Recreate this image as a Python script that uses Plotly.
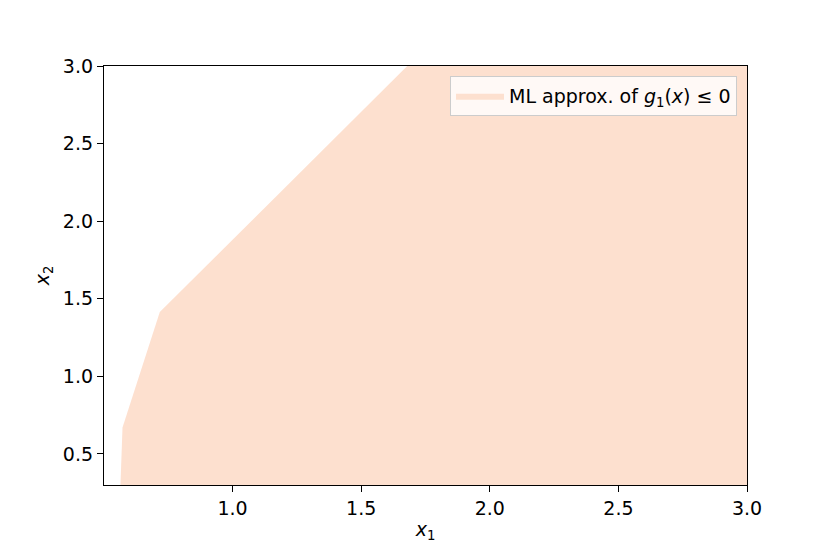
import plotly.graph_objects as go

# Region boundary (data coords)
region_x = [0.564, 0.572, 0.717, 1.679, 3.0, 3.0, 0.564]
region_y = [0.3, 0.670, 1.414, 3.0, 3.0, 0.3, 0.3]

x_ticks = [1.0, 1.5, 2.0, 2.5, 3.0]
y_ticks = [0.5, 1.0, 1.5, 2.0, 2.5, 3.0]
x_range = [0.5, 3.0]
y_range = [0.3, 3.0]

fill_color = "#fde0cf"
font_family = "DejaVu Sans"
fs = 19

fig = go.Figure()
fig.add_trace(go.Scatter(
    x=region_x, y=region_y, mode="lines", fill="toself",
    fillcolor=fill_color, line=dict(width=0, color=fill_color),
    name="ML approx. of <i>g</i><sub>1</sub>(<i>x</i>) ≤ 0",
    showlegend=True, hoverinfo="skip",
))

W, H = 830, 554
L, R, T, B = 104, 83, 66, 69
pw = W - L - R
ph = H - T - B

axis_common = dict(
    showline=True, mirror=True, linecolor="black", linewidth=1.3,
    ticks="outside", ticklen=6, tickwidth=1.3, tickcolor="black",
    showgrid=False, zeroline=False, tickformat=".1f",
    tickfont=dict(family=font_family, size=fs, color="black"),
)

fig.update_layout(
    width=W, height=H,
    margin=dict(l=L, r=R, t=T, b=B, pad=0),
    plot_bgcolor="white", paper_bgcolor="white",
    font=dict(family=font_family, size=fs, color="black"),
    xaxis=dict(range=x_range, tickvals=x_ticks, **axis_common,
               title=dict(text="<i>x</i><sub>1</sub>", standoff=4,
                          font=dict(family=font_family, size=fs))),
    yaxis=dict(range=y_range, tickvals=y_ticks, **axis_common,
               title=dict(text="<i>x</i><sub>2</sub>", standoff=8,
                          font=dict(family=font_family, size=fs))),
    legend=dict(
        x=1 - 10 / pw, y=1 - 10 / ph, xanchor="right", yanchor="top",
        bgcolor="rgba(255,255,255,0.8)", bordercolor="#cccccc", borderwidth=1,
        font=dict(family=font_family, size=fs, color="black"),
        itemwidth=48,
    ),
)

fig.write_html("out.html", config={"displayModeBar": False},
               post_script="document.body.style.margin='0px';")
